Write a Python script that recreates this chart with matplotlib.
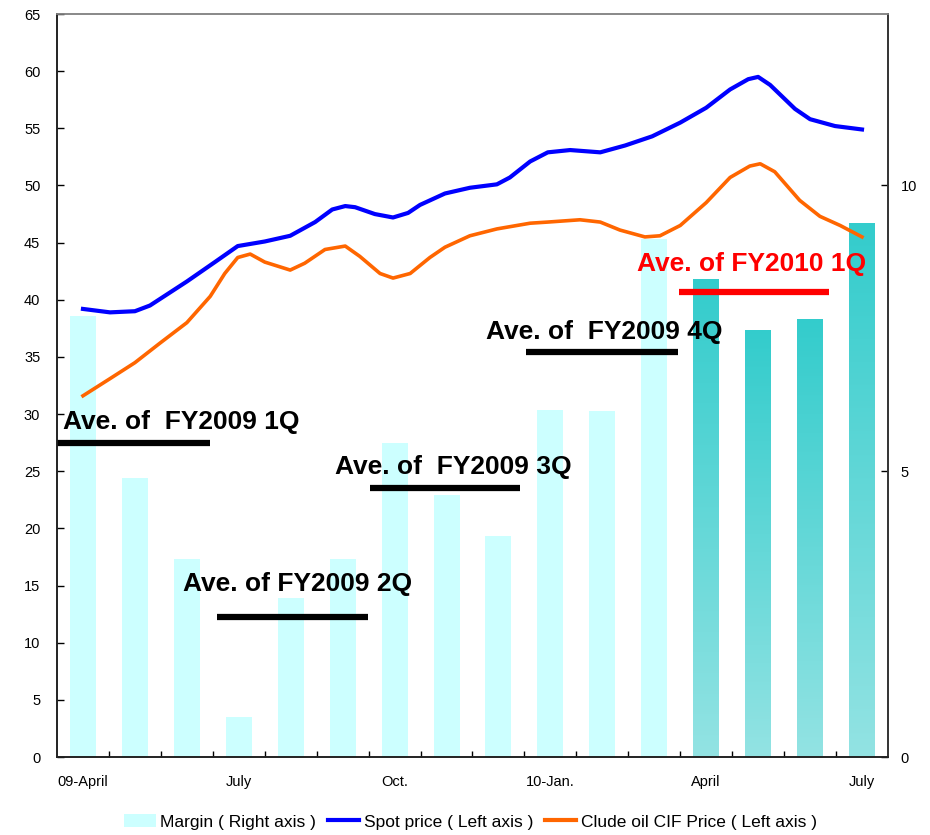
import numpy as np
import matplotlib.pyplot as plt
from matplotlib.colors import LinearSegmentedColormap
from matplotlib.patches import Patch
from matplotlib.lines import Line2D

plt.rcParams['font.family'] = ['Liberation Sans', 'DejaVu Sans']

# monthly margin (right axis), Apr 2009 .. Jul 2010
months = ['09-April', 'May', 'June', 'July', 'Aug.', 'Sep.', 'Oct.', 'Nov.', 'Dec.',
          '10-Jan.', 'Feb.', 'Mar.', 'April', 'May', 'June', 'July']
margin = [7.71, 4.88, 3.46, 0.70, 2.78, 3.46, 5.49, 4.58, 3.86,
          6.08, 6.05, 9.06, 8.37, 7.48, 7.67, 9.35]
n_old = 12  # FY2009 months, the rest are FY2010

tick_pos = [0, 3, 6, 9, 12, 15]
tick_labels = ['09-April', 'July', 'Oct.', '10-Jan.', 'April', 'July']

# spot price (left axis), x in months from Apr 2009
spot_x = [0, 0.52, 1.0, 1.29, 2.0, 2.54, 2.98, 3.5, 3.99, 4.47, 4.8, 5.05, 5.24, 5.62,
          5.97, 6.26, 6.49, 6.97, 7.45, 7.97, 8.22, 8.61, 8.95, 9.38, 9.96, 10.44,
          10.96, 11.5, 12.0, 12.46, 12.81, 13.0, 13.23, 13.71, 14.0, 14.48, 15.0]
spot = [39.2, 38.9, 39.0, 39.5, 41.6, 43.3, 44.7, 45.1, 45.6, 46.8, 47.9, 48.2, 48.1, 47.5,
        47.2, 47.6, 48.3, 49.3, 49.8, 50.1, 50.7, 52.1, 52.9, 53.1, 52.9, 53.5,
        54.3, 55.5, 56.8, 58.4, 59.3, 59.5, 58.8, 56.7, 55.8, 55.2, 54.9]

# crude oil CIF price (left axis)
crude_x = [0, 0.52, 1.0, 1.48, 2.0, 2.45, 2.73, 2.98, 3.22, 3.5, 3.99, 4.27, 4.66, 5.05,
           5.33, 5.72, 5.97, 6.3, 6.68, 6.97, 7.45, 7.97, 8.61, 8.95, 9.57, 9.96,
           10.34, 10.82, 11.11, 11.5, 12.0, 12.46, 12.84, 13.04, 13.32, 13.8, 14.19,
           14.58, 15.0]
crude = [31.6, 33.1, 34.5, 36.2, 38.0, 40.3, 42.3, 43.7, 44.0, 43.3, 42.6, 43.2, 44.4, 44.7,
         43.8, 42.3, 41.9, 42.3, 43.7, 44.6, 45.6, 46.2, 46.7, 46.8, 47.0, 46.8,
         46.1, 45.5, 45.6, 46.5, 48.5, 50.7, 51.7, 51.9, 51.2, 48.7, 47.3,
         46.5, 45.5]

# quarterly average margin (right axis)
quarters = ['Ave. of  FY2009 1Q', 'Ave. of FY2009 2Q', 'Ave. of  FY2009 3Q',
            'Ave. of  FY2009 4Q', 'Ave. of FY2010 1Q']
q_avg = [5.49, 2.45, 4.70, 7.08, 8.13]
q_start = [-0.5, 2.58, 5.53, 8.54, 11.48]
q_end = [2.45, 5.49, 8.42, 11.46, 14.37]
q_colors = ['black', 'black', 'black', 'black', '#FF0000']
# label anchor (left x, y in right-axis units)
q_text_x = [-0.39, 1.93, 4.86, 7.76, 10.67]
q_text_y = [5.86, 3.03, 5.07, 7.44, 8.62]

fig = plt.figure(figsize=(9.3, 8.35), dpi=100)
ax2 = fig.add_axes([0.0613, 0.0934, 0.8935, 0.8898])
ax1 = ax2.twinx()
# left-axis series above the bars
ax1.yaxis.tick_left()
ax2.yaxis.tick_right()
ax1.set_zorder(2)
ax2.set_zorder(1)
ax1.patch.set_visible(False)

x = np.arange(len(margin))
w = 0.5
bars = ax2.bar(x[:n_old], margin[:n_old], width=w, color='#CCFFFF', zorder=1)

grad = LinearSegmentedColormap.from_list('teal', ['#93E3E3', '#33CCCC'])
g = np.linspace(0, 1, 256).reshape(-1, 1)
new_bars = ax2.bar(x[n_old:], margin[n_old:], width=w, color='none', zorder=1)
for b in new_bars:
    im = ax2.imshow(g, cmap=grad, origin='lower', aspect='auto', zorder=1,
                    extent=[b.get_x(), b.get_x() + b.get_width(), 0, b.get_height()])
    im.set_clip_path(b)

for i in range(len(q_avg)):
    ax2.plot([q_start[i], q_end[i]], [q_avg[i], q_avg[i]], color=q_colors[i],
             lw=4.5, solid_capstyle='butt', zorder=3)
    ax2.text(q_text_x[i], q_text_y[i], quarters[i], color=q_colors[i], fontsize=19,
             fontweight='bold', va='center', ha='left', zorder=4)

ax1.plot(spot_x, spot, color='#0000FF', lw=3, solid_joinstyle='round')
ax1.plot(crude_x, crude, color='#FF6600', lw=2.6, solid_joinstyle='round')

ax2.set_xlim(-0.5, 15.5)
ax2.set_ylim(0, 13)
ax1.set_ylim(0, 65)
ax1.set_yticks(np.arange(0, 66, 5))
ax2.set_yticks([0, 5, 10])

ax2.set_xticks(tick_pos)
ax2.set_xticklabels(tick_labels)
ax2.set_xticks(np.arange(0.5, 15, 1), minor=True)
ax2.tick_params(axis='x', which='major', length=0, pad=13, labelsize=10.5)
ax2.tick_params(axis='x', which='minor', direction='in', length=4, width=1)
ax1.tick_params(axis='y', direction='in', length=5, width=1, pad=12, labelsize=10.5)
ax2.tick_params(axis='y', direction='in', length=5, width=1, pad=9, labelsize=10.5)

for a in (ax1, ax2):
    a.spines['top'].set_color('#888888')
    a.spines['left'].set_color('#222222')
    a.spines['right'].set_color('#333333')
    a.spines['bottom'].set_color('#222222')
    for s in a.spines.values():
        s.set_linewidth(1.2)

handles = [Patch(facecolor='#CCFFFF', edgecolor='none'),
           Line2D([], [], color='#0000FF', lw=3),
           Line2D([], [], color='#FF6600', lw=3)]
labels = ['Margin ( Right axis )', 'Spot price ( Left axis )',
          'Clude oil CIF Price ( Left axis )']
fig.legend(handles, labels, loc='center', bbox_to_anchor=(0.506, 0.0156), ncol=3,
           frameon=False, handlelength=1.8, handletextpad=0.25, columnspacing=0.7,
           prop={'size': 12.5})

fig.savefig('out.png', dpi=100)
